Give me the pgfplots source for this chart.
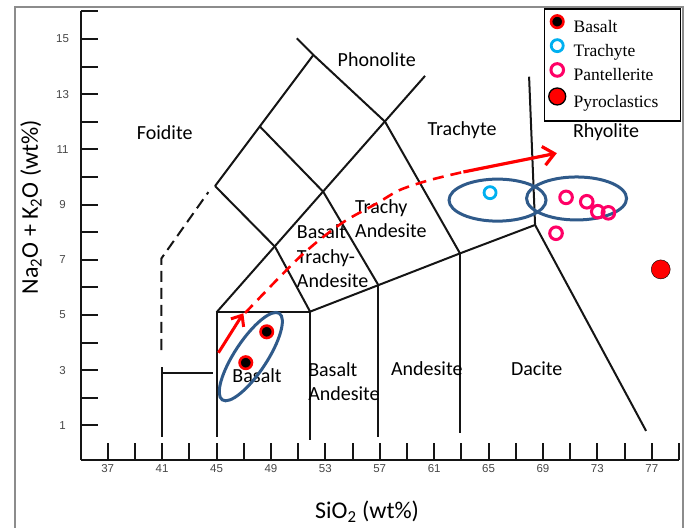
\documentclass[border=0pt]{standalone}
\usepackage{fontspec}
\setmainfont{Carlito}
\newfontfamily\legfont{Liberation Serif}
\newfontfamily\tickfont{Liberation Sans}
\usepackage{pgfplots}
\pgfplotsset{compat=1.18}
\usetikzlibrary{arrows.meta,shapes.geometric}
\definecolor{ellcol}{HTML}{2F5A8A}
\definecolor{cyanm}{HTML}{00B0F0}
\definecolor{pinkm}{HTML}{FF0066}
\definecolor{redm}{HTML}{FF0000}
\definecolor{linec}{HTML}{151515}
\pgfplotsset{
  dotleg/.style={legend image code/.code={\draw[##1] plot coordinates {(8pt,6.5pt)};}},
  bigleg/.style={legend image code/.code={\draw[##1, mark size=8.5pt] plot coordinates {(8pt,6.5pt)};}},
}
\begin{document}
\begin{tikzpicture}
\begin{axis}[
  x=13.6pt, y=27.6pt,
  xmin=35, xmax=79, ymin=-0.26, ymax=16,
  axis lines=left,
  axis line style={-, line width=2pt, linec},
  tick align=inside,
  xtick={37,41,...,77}, minor xtick={39,43,...,79},
  ytick={1,3,...,15}, minor ytick={2,4,...,16},
  major tick length=17pt, minor tick length=17pt,
  tick style={line width=2pt, linec},
  /pgf/number format/assume math mode=true,
  ticklabel style={font=\tickfont\fontsize{11.5}{13}\selectfont, text=black!72},
  xticklabel style={anchor=center, yshift=-8.5pt},
  yticklabel style={anchor=center, xshift=-18pt},
  clip=false,
  legend style={
    at={(0.7746,1.0067)}, anchor=north west,
    draw=black, line width=1.3pt, fill=white,
    font=\legfont\fontsize{17.5}{20}\selectfont,
    inner xsep=4pt, inner ysep=6.5pt,
    row sep=0pt,
    nodes={inner sep=2pt, text height=14pt, text depth=5pt},
    /tikz/every odd column/.append style={column sep=6pt},
    /tikz/every even column/.append style={text width=101pt},
  },
  legend cell align=left,
]
% frame
\draw[black!45, line width=1.5pt] (axis cs:30.18,-3.5) -- (axis cs:30.18,16.16) -- (axis cs:79.30,16.16) -- (axis cs:79.30,-3.5);
\coordinate (bbsw) at (axis cs:29.08,-2.69);
\coordinate (bbne) at (axis cs:79.59,16.41);

% TAS boundaries
\pgfplotsset{tas/.style={linec, line width=2pt, forget plot}}
\addplot[tas] coordinates {(40.97,0.58) (40.97,3.1)};
\addplot[tas] coordinates {(40.97,2.9) (44.74,2.9)};
\addplot[tas, dash pattern=on 11pt off 6pt] coordinates {(40.95,3.73) (40.95,7.05) (44.4,9.45)};
\addplot[tas] coordinates {(45.01,0.58) (45.01,5.1) (51.88,5.1) (51.88,0.47)};
\addplot[tas] coordinates {(45.01,5.1) (60.33,13.66)};
\addplot[tas] coordinates {(44.89,9.67) (52.12,14.42)};
\addplot[tas] coordinates {(44.89,9.67) (49.30,7.47) (51.88,5.12)};
\addplot[tas] coordinates {(50.90,15.02) (52.12,14.42) (57.39,12.0) (62.90,7.23)};
\addplot[tas] coordinates {(48.20,11.82) (52.85,9.46) (56.90,6.08)};
\addplot[tas] coordinates {(51.88,5.12) (56.90,6.08) (62.90,7.23) (68.42,8.26)};
\addplot[tas] coordinates {(56.90,6.08) (56.90,0.59)};
\addplot[tas] coordinates {(62.93,7.23) (62.93,0.71)};
\addplot[tas] coordinates {(67.98,13.63) (68.42,8.26) (76.58,0.80)};

% region labels
\begin{scope}[font=\fontsize{20}{24.5}\selectfont, inner sep=0pt]
\node at (axis cs:41.19,11.61) {Foidite};
\node at (axis cs:56.78,14.24) {Phonolite};
\node at (axis cs:63.05,11.70) {Trachyte};
\node at (axis cs:73.64,11.63) {Rhyolite};
\node[anchor=west, align=left] at (axis cs:55.18,8.49) {Trachy\\Andesite};
\node[anchor=west, align=left] at (axis cs:50.90,7.13) {Basalt\\Trachy-\\Andesite};
\node at (axis cs:47.98,2.79) {Basalt};
\node[anchor=west, align=left] at (axis cs:51.73,2.59) {Basalt\\Andesite};
\node at (axis cs:60.46,3.04) {Andesite};
\node at (axis cs:68.54,3.04) {Dacite};
\end{scope}

% axis titles
\node[font=\fontsize{24}{28}\selectfont, rotate=90] at (axis cs:31.36,8.91) {Na\textsubscript{2}O + K\textsubscript{2}O (wt\%)};
\node[font=\fontsize{24}{28}\selectfont] at (axis cs:56.07,-2.14) {SiO\textsubscript{2} (wt\%)};

% ellipses
\node[draw=ellcol, line width=3pt, ellipse, inner sep=0pt, minimum width=103.6pt, minimum height=32.4pt, rotate=56.6] at (axis cs:47.52,3.49) {};
\node[draw=ellcol, line width=3pt, ellipse, inner sep=0pt, minimum width=97pt, minimum height=42pt] at (axis cs:65.66,9.16) {};
\node[draw=ellcol, line width=3pt, ellipse, inner sep=0pt, minimum width=100pt, minimum height=43pt] at (axis cs:71.47,9.22) {};

% trend arrows
\addplot[redm, line width=3pt, -{Straight Barb[length=9pt, width=15pt]}, forget plot] coordinates {(45.14,3.63) (46.97,5.06)};
\addplot[redm, line width=2.6pt, dash pattern=on 11pt off 7pt, smooth, forget plot] coordinates {
(47.10,5.07) (49.18,6.14) (51.14,7.11) (52.85,7.83) (54.57,8.44) (56.78,9.04) (58.49,9.53) (60.70,9.89) (63.15,10.18)};
\addplot[redm, line width=3.2pt, -{Straight Barb[length=11pt, width=19pt]}, forget plot] coordinates {(63.15,10.18) (70.02,10.86)};

% data
\addplot[only marks, mark=*, mark size=6.2pt, draw=redm, fill=black, line width=2.6pt, dotleg]
  coordinates {(47.15,3.27) (48.69,4.39)};
\addlegendentry{Basalt}
\addplot[only marks, mark=o, mark size=6pt, draw=cyanm, line width=2.8pt, dotleg]
  coordinates {(65.11,9.43)};
\addlegendentry{Trachyte}
\addplot[only marks, mark=o, mark size=6.3pt, draw=pinkm, line width=3pt, dotleg]
  coordinates {(70.70,9.26) (72.22,9.10) (73.03,8.74) (73.81,8.70) (69.96,7.96)};
\addlegendentry{Pantellerite}
\addplot[only marks, mark=*, mark size=9.5pt, draw=none, fill=redm, bigleg]
  coordinates {(77.66,6.65)};
\addlegendentry{Pyroclastics}
\end{axis}
\pgfresetboundingbox
\useasboundingbox (bbsw) rectangle (bbne);
\end{tikzpicture}
\end{document}
